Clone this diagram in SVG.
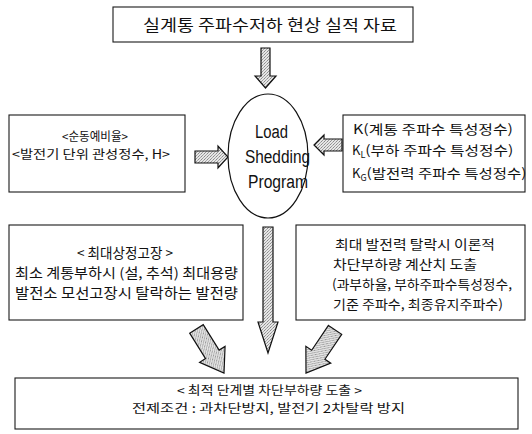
<svg xmlns="http://www.w3.org/2000/svg" width="532" height="434" viewBox="0 0 532 434">
<defs>
<pattern id="stip" width="3" height="3" patternUnits="userSpaceOnUse">
<rect width="3" height="3" fill="#e6e6e6"/>
<rect x="0" y="0" width="1" height="1" fill="#8a8a8a"/>
<rect x="2" y="1" width="1" height="1" fill="#a8a8a8"/>
<rect x="1" y="2" width="1" height="1" fill="#9a9a9a"/>
</pattern>
<style>
.box{fill:#fff;stroke:#1a1a1a;stroke-width:1.1}
.arr{fill:url(#stip);stroke:#111;stroke-width:1.2;stroke-linejoin:miter}
.kr{font-family:"Noto Sans CJK KR","Noto Sans",sans-serif;fill:#111}
.en{font-family:"Liberation Sans",Arial,sans-serif;fill:#111}
</style>
</defs>
<rect width="532" height="434" fill="#fff"/>

<g id="connectors">
<polygon class="arr" points="261,48 270,48 270,76 276,76 265.5,88 255,76 261,76"/>
<polygon class="arr" points="195,151 218,151 218,146 228,157 218,168 218,163 195,163"/>
<polygon class="arr" points="342,139 324,139 324,135 314,145 324,155 324,151 342,151"/>
<polygon class="arr" points="263,227 273,227 273,322 278,322 268,353 258,322 263,322"/>
<polygon class="arr" transform="translate(224,373) rotate(-32)" points="-8,-52 8,-52 8,-22 15,-22 0,0 -15,-22 -8,-22"/>
<polygon class="arr" transform="translate(306,373) rotate(34)" points="-8,-52 8,-52 8,-22 15,-22 0,0 -15,-22 -8,-22"/>
</g>

<g id="top">
<rect class="box" x="113" y="7" width="300" height="35"/>
<text class="kr" x="143" y="31" font-size="15.5" textLength="254" lengthAdjust="spacingAndGlyphs">실계통 주파수저하 현상 실적 자료</text>
</g>

<g id="program">
<ellipse cx="268" cy="156" rx="40" ry="62" fill="#fff" stroke="#111" stroke-width="1.2"/>
<text class="en" x="255" y="138" font-size="18" textLength="33" lengthAdjust="spacingAndGlyphs">Load</text>
<text class="en" x="245" y="163" font-size="18" textLength="65" lengthAdjust="spacingAndGlyphs">Shedding</text>
<text class="en" x="248" y="188" font-size="18" textLength="60" lengthAdjust="spacingAndGlyphs">Program</text>
</g>

<g id="inertia">
<rect class="box" x="9" y="115" width="176" height="77"/>
<text class="kr" x="62" y="141" font-size="12" textLength="66" lengthAdjust="spacingAndGlyphs">&lt;순동예비율&gt;</text>
<text class="kr" x="12" y="159" font-size="12.5" textLength="158" lengthAdjust="spacingAndGlyphs">&lt;발전기 단위 관성정수, H&gt;</text>
</g>

<g id="constants">
<rect class="box" x="343" y="115" width="182" height="77"/>
<text class="kr" x="353" y="134" font-size="13" textLength="160" lengthAdjust="spacingAndGlyphs">K(계통 주파수 특성정수)</text>
<text class="kr" x="352" y="155" font-size="13">K<tspan font-size="9" dy="3">L</tspan><tspan dy="-3" textLength="148" lengthAdjust="spacingAndGlyphs">(부하 주파수 특성정수)</tspan></text>
<text class="kr" x="352" y="178" font-size="13">K<tspan font-size="9" dy="3">G</tspan><tspan dy="-3" textLength="160" lengthAdjust="spacingAndGlyphs">(발전력 주파수 특성정수)</tspan></text>
</g>

<g id="contingency">
<rect class="box" x="9" y="225" width="234" height="95"/>
<text class="kr" x="77" y="258" font-size="13.5" textLength="96" lengthAdjust="spacingAndGlyphs">&lt; 최대상정고장 &gt;</text>
<text class="kr" x="15" y="278" font-size="13.5" textLength="223" lengthAdjust="spacingAndGlyphs">최소 계통부하시 (설, 추석) 최대용량</text>
<text class="kr" x="15" y="298" font-size="13.5" textLength="223" lengthAdjust="spacingAndGlyphs">발전소 모선고장시 탈락하는 발전량</text>
</g>

<g id="theory">
<rect class="box" x="296" y="225" width="229" height="95"/>
<text class="kr" x="335" y="249" font-size="13" textLength="160" lengthAdjust="spacingAndGlyphs">최대 발전력 탈락시 이론적</text>
<text class="kr" x="333" y="269" font-size="13" textLength="144" lengthAdjust="spacingAndGlyphs">차단부하량 계산치 도출</text>
<text class="kr" x="332" y="289" font-size="13" textLength="180" lengthAdjust="spacingAndGlyphs">(과부하율, 부하주파수특성정수,</text>
<text class="kr" x="333" y="309" font-size="13" textLength="170" lengthAdjust="spacingAndGlyphs">기준 주파수, 최종유지주파수)</text>
</g>

<g id="result">
<rect class="box" x="15" y="378" width="503" height="51"/>
<text class="kr" x="177" y="395" font-size="12" textLength="185" lengthAdjust="spacingAndGlyphs">&lt; 최적 단계별 차단부하량 도출 &gt;</text>
<text class="kr" x="132" y="413" font-size="12" textLength="273" lengthAdjust="spacingAndGlyphs">전제조건 : 과차단방지, 발전기 2차탈락 방지</text>
</g>
</svg>
